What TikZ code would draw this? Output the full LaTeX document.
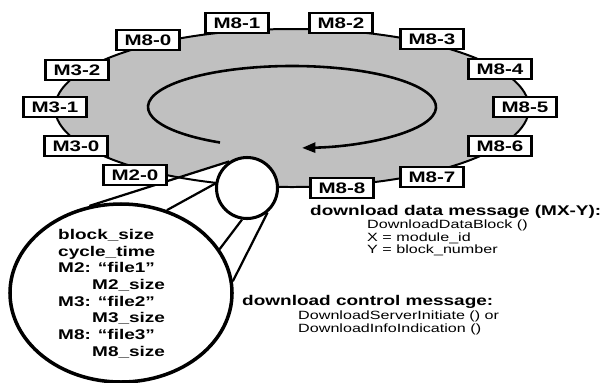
\documentclass[tikz,border=0pt]{standalone}
\usepackage{fontspec}
\usetikzlibrary{arrows.meta,backgrounds,shapes.geometric}
\newfontfamily\wideSans[FakeStretch=1.35]{Liberation Sans}
\definecolor{Ink}{HTML}{000000}
\definecolor{Ring}{HTML}{C0C0C0}
\definecolor{Paper}{HTML}{FFFFFF}
\tikzset{
  module/.style={
    draw=Ink, line width=2.4pt, fill=Paper, inner sep=0pt,
    minimum width=1.9cm, minimum height=0.6cm,
    font=\fontsize{13}{15}\selectfont\wideSans\bfseries
  },
  lens/.style={
    circle, draw=Ink, line width=2.6pt, fill=Paper,
    minimum size=1.83cm, inner sep=0pt
  },
  zoomed/.style={
    ellipse, draw=Ink, line width=3pt, fill=Paper,
    minimum width=6.66cm, minimum height=5.34cm, inner sep=0pt
  },
  beam/.style={draw=Ink, line width=1.9pt},
  ringedge/.style={draw=Ink, line width=1.7pt},
  loopflow/.style={-{Triangle[length=4mm,width=3mm]}, line width=2.2pt, draw=Ink},
  heading/.style={
    font=\fontsize{12}{14}\selectfont\wideSans\bfseries,
    inner sep=0pt, anchor=west
  },
  calls/.style={
    font=\fontsize{10.2}{10.7}\selectfont\wideSans,
    inner sep=0pt, align=left, anchor=north west
  },
  params/.style={
    font=\fontsize{12}{14.25}\selectfont\wideSans\bfseries,
    inner sep=0pt, align=left, anchor=north west
  }
}
\begin{document}
\begin{tikzpicture}[x=0.03cm, y=-0.03cm]
  \useasboundingbox (0,0) rectangle (601,382);
  \node[lens] (lens) at (247,188) {};
  \node[zoomed] (detail) at (121,293) {};
  \begin{pgfonlayer}{background}
    \fill[Ring] (292,108) ellipse [x radius=237, y radius=79];
    \fill[Paper] (detail.110) -- (lens.124) -- (lens.90) -- (lens.0)
      -- (lens.310) -- (detail.6) -- (detail.center) -- cycle;
    \draw[ringedge] (292,108) ellipse [x radius=237, y radius=79];
  \end{pgfonlayer}
  \draw[beam] (detail.110) -- (lens.124);
  \draw[beam] (detail.61) -- (lens.172);
  \draw[beam] (detail.24) -- (lens.261);
  \draw[beam] (detail.6) -- (lens.310);
  \draw[loopflow] (220,142.5)
    arc [start angle=120, end angle=446, x radius=144, y radius=41];
  \node[module] (m80) at (148,40) {M8-0};
  \node[module] (m81) at (237,23) {M8-1};
  \node[module] (m82) at (341,23) {M8-2};
  \node[module] (m83) at (432,39) {M8-3};
  \node[module] (m84) at (500,69) {M8-4};
  \node[module] (m85) at (525,107) {M8-5};
  \node[module] (m86) at (500,146) {M8-6};
  \node[module] (m87) at (432,177) {M8-7};
  \node[module] (m88) at (342,188) {M8-8};
  \node[module] (m32) at (77,70) {M3-2};
  \node[module] (m31) at (55,107) {M3-1};
  \node[module] (m30) at (76,146) {M3-0};
  \node[module] (m20) at (135,175) {M2-0};
  \node[params] (paramlist) at (58,229) {block\_size\\cycle\_time\\M2: “file1”\\
    \hspace*{29pt}M2\_size\\M3: “file2”\\\hspace*{29pt}M3\_size\\
    M8: “file3”\\\hspace*{29pt}M8\_size};
  \node[heading] (datamsg) at (310,211.5) {download data message (MX-Y):};
  \node[calls] (datacalls) at (367,220)
    {DownloadDataBlock ()\\X = module\_id\\Y = block\_number};
  \node[heading] (ctrlmsg) at (242,302) {download control message:};
  \node[calls] (ctrlcalls) at (298,311)
    {DownloadServerInitiate () or\\DownloadInfoIndication ()};
\end{tikzpicture}
\end{document}
